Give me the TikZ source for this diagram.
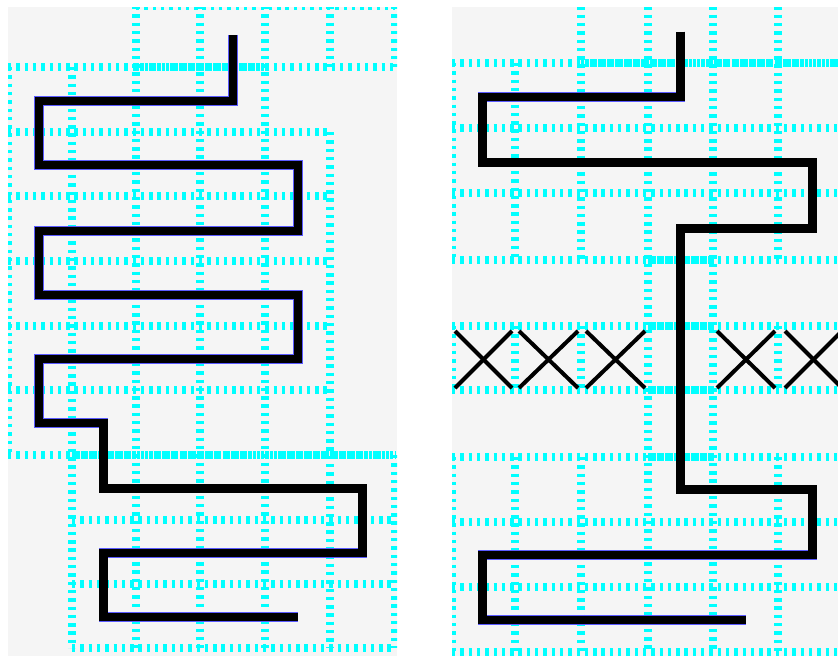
\documentclass[tikz,border=0pt]{standalone}
\definecolor{gridcyan}{RGB}{0,255,255}
\definecolor{panelgray}{RGB}{245,245,245}
\definecolor{edgeblue}{RGB}{90,90,255}
\begin{document}
\begin{tikzpicture}[x=1pt,y=-1pt,
  gridline/.style={draw=gridcyan, line width=7.8pt, dash pattern=on 3.4pt off 4.9pt},
  griddense/.style={draw=gridcyan, line width=7.8pt, dash pattern=on 3.2pt off 1.1pt},
  snakeedge/.style={draw=edgeblue, line width=9.2pt, line join=miter},
  snakeline/.style={draw=black, line width=8.4pt, line join=miter},
  crossmark/.style={draw=black, line width=4pt}]
\useasboundingbox (0,0) rectangle (838,656);

% ---------------- left panel ----------------
\fill[panelgray] (8,7) rectangle (397,656);
\begin{scope}
\clip (8,7) rectangle (397,656);
% horizontal lines
\draw[gridline] (136,6) -- (395,6);
\draw[gridline] (8,67) -- (395,67);
\draw[griddense] (136,67) -- (265,67);
\foreach \y in {132,196,261,326,390} \draw[gridline] (8,\y) -- (330,\y);
\draw[gridline] (8,455) -- (395,455);
\draw[griddense] (72,455) -- (395,455);
\foreach \y in {520,584,648} \draw[gridline] (72,\y) -- (395,\y);
% vertical lines
\draw[gridline] (8,67) -- (8,455);
\draw[gridline] (72,67) -- (72,648);
\foreach \x in {136,200,265} \draw[gridline] (\x,6) -- (\x,648);
\draw[gridline] (330,6) -- (330,67);
\draw[gridline] (330,132) -- (330,648);
\draw[gridline] (395,6) -- (395,67);
\draw[gridline] (395,455) -- (395,648);
\end{scope}

% left snake
\coordinate (L0) at (233,35);
\coordinate (L1) at (233,101);
\coordinate (L2) at (39,101);
\coordinate (L3) at (39,165);
\coordinate (L4) at (298,165);
\coordinate (L5) at (298,231);
\coordinate (L6) at (39,231);
\coordinate (L7) at (39,295);
\coordinate (L8) at (298,295);
\coordinate (L9) at (298,359);
\coordinate (L10) at (39,359);
\coordinate (L11) at (39,423);
\coordinate (L12) at (103.5,423);
\coordinate (L13) at (103.5,488.5);
\coordinate (L14) at (362.5,488.5);
\coordinate (L15) at (362.5,553);
\coordinate (L16) at (103.5,553);
\coordinate (L17) at (103.5,617);
\coordinate (L18) at (298,617);
\foreach \st in {snakeedge,snakeline}
  \draw[\st] (L0) -- (L1) -- (L2) -- (L3) -- (L4) -- (L5) -- (L6) -- (L7) -- (L8)
    -- (L9) -- (L10) -- (L11) -- (L12) -- (L13) -- (L14) -- (L15) -- (L16) -- (L17) -- (L18);

% ---------------- right panel ----------------
\fill[panelgray] (452,7) rectangle (838,656);
\begin{scope}
\clip (452,7) rectangle (838,656);
% horizontal lines
\foreach \y in {63,128,193,260,326,390,457,522,587,652} \draw[gridline] (452,\y) -- (845,\y);
\draw[griddense] (581,63) -- (845,63);
\foreach \y in {260,326,390,457} \draw[griddense] (648,\y) -- (713,\y);
% vertical lines
\foreach \x in {452,515} {
  \draw[gridline] (\x,63) -- (\x,260);
  \draw[gridline] (\x,326) -- (\x,390);
  \draw[gridline] (\x,457) -- (\x,652);
}
\foreach \x in {581,778} {
  \draw[gridline] (\x,-2) -- (\x,260);
  \draw[gridline] (\x,326) -- (\x,390);
  \draw[gridline] (\x,457) -- (\x,652);
}
\foreach \x in {648,713} \draw[gridline] (\x,-2) -- (\x,652);
% crosses
\foreach \a/\b in {455/512, 519/578, 586/645, 717/775, 785/842} {
  \draw[crossmark] (\a,331) -- (\b,388);
  \draw[crossmark] (\a,388) -- (\b,331);
}
\end{scope}

% right snake
\coordinate (R0) at (680.5,31.5);
\coordinate (R1) at (680.5,97);
\coordinate (R2) at (482.5,97);
\coordinate (R3) at (482.5,162.5);
\coordinate (R4) at (812.5,162.5);
\coordinate (R5) at (812.5,228.5);
\coordinate (R6) at (680.5,228.5);
\coordinate (R7) at (680.5,489.5);
\coordinate (R8) at (812.5,489.5);
\coordinate (R9) at (812.5,555);
\coordinate (R10) at (482.5,555);
\coordinate (R11) at (482.5,620);
\coordinate (R12) at (746,620);
\foreach \st in {snakeedge,snakeline}
  \draw[\st] (R0) -- (R1) -- (R2) -- (R3) -- (R4) -- (R5) -- (R6) -- (R7) -- (R8)
    -- (R9) -- (R10) -- (R11) -- (R12);
\end{tikzpicture}
\end{document}
